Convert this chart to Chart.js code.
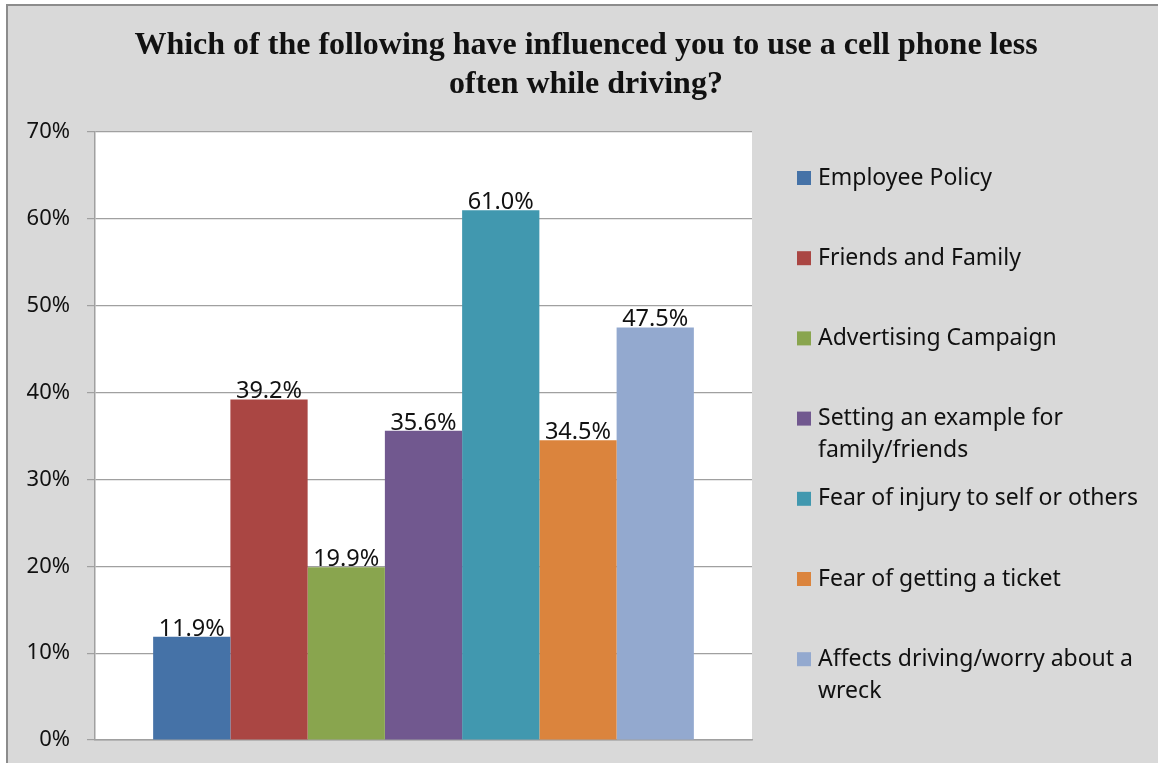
<!DOCTYPE html>
<html>
<head>
<meta charset="utf-8">
<script src="https://cdn.jsdelivr.net/npm/chart.js@4.4.0/dist/chart.umd.min.js"></script>
<style>
    html, body { margin: 0; padding: 0; background: #fff; }
    canvas { display: block; }
</style>
</head>
<body>
<canvas id="influenceChart" width="1158" height="763"></canvas>
<script>
const chartTitle = ['Which of the following have influenced you to use a cell phone less', 'often while driving?'];
const categories = [
    'Employee Policy',
    'Friends and Family',
    'Advertising Campaign',
    'Setting an example for\nfamily/friends',
    'Fear of injury to self or others',
    'Fear of getting a ticket',
    'Affects driving/worry about a\nwreck'
];
const values = [11.9, 39.2, 19.9, 35.6, 61.0, 34.5, 47.5];
const barColors = ['#4572a7', '#aa4643', '#89a54e', '#71588f', '#4198af', '#db843d', '#93a9cf'];
const yTickLabels = ['0%', '10%', '20%', '30%', '40%', '50%', '60%', '70%'];

Chart.defaults.font.family = '"Noto Sans", "Open Sans", sans-serif';
Chart.defaults.color = '#000';

// Grey panel, outer border and white plot area
const panelBackground = {
    id: 'panelBackground',
    beforeDraw(chart) {
        const { ctx, width, height, chartArea } = chart;
        ctx.save();
        ctx.fillStyle = '#fff';
        ctx.fillRect(0, 0, width, height);
        ctx.fillStyle = '#d9d9d9';
        ctx.fillRect(7, 5, width - 7, height - 5);
        ctx.strokeStyle = '#8c8c8c';
        ctx.lineWidth = 2;
        ctx.beginPath();
        ctx.moveTo(7, height);
        ctx.lineTo(7, 5);
        ctx.lineTo(width, 5);
        ctx.stroke();
        ctx.fillStyle = '#fff';
        ctx.fillRect(chartArea.left, chartArea.top, chartArea.right - chartArea.left, chartArea.bottom - chartArea.top);
        ctx.restore();
    }
};

// Value labels on top of each bar
const barValueLabels = {
    id: 'barValueLabels',
    afterDatasetsDraw(chart) {
        const { ctx } = chart;
        ctx.save();
        ctx.font = '23.5px "Noto Sans"';
        ctx.fillStyle = '#111';
        ctx.textAlign = 'center';
        ctx.textBaseline = 'bottom';
        chart.data.datasets.forEach((ds, i) => {
            const bar = chart.getDatasetMeta(i).data[0];
            ctx.fillText(ds.data[0].toFixed(1) + '%', bar.x, bar.y + 4);
        });
        ctx.restore();
    }
};

// Title and right-hand legend (multi-line labels)
const titleAndLegend = {
    id: 'titleAndLegend',
    afterDraw(chart) {
        const { ctx } = chart;
        ctx.save();
        ctx.font = 'bold 32px "Liberation Serif", "Times New Roman", serif';
        ctx.fillStyle = '#111';
        ctx.textAlign = 'center';
        ctx.textBaseline = 'middle';
        chartTitle.forEach((line, i) => ctx.fillText(line, 586, 46 + i * 39));

        ctx.font = '23px "Noto Sans"';
        ctx.textAlign = 'left';
        chart.data.datasets.forEach((ds, i) => {
            const y = 178 + i * 80.2;
            ctx.fillStyle = ds.backgroundColor;
            ctx.fillRect(797, y - 7, 14, 14);
            ctx.fillStyle = '#111';
            ds.label.split('\n').forEach((line, j) => ctx.fillText(line, 818, y + j * 32));
        });
        ctx.restore();
    }
};

const ctx = document.getElementById('influenceChart').getContext('2d');

new Chart(ctx, {
    type: 'bar',
    data: {
        labels: [''],
        datasets: categories.map((label, i) => ({
            label: label,
            data: [values[i]],
            backgroundColor: barColors[i],
            borderWidth: 0
        }))
    },
    options: {
        responsive: false,
        animation: false,
        devicePixelRatio: 1,
        layout: {
            padding: { left: 0, top: 132, right: 406, bottom: 15 }
        },
        datasets: {
            bar: {
                categoryPercentage: 0.823,
                barPercentage: 1
            }
        },
        plugins: {
            legend: { display: false },
            tooltip: { enabled: false },
            title: { display: false }
        },
        scales: {
            x: {
                ticks: { display: false },
                grid: { display: false },
                border: { color: '#a0a0a0', width: 1.5 }
            },
            y: {
                min: 0,
                max: 70,
                ticks: {
                    stepSize: 10,
                    padding: 17,
                    font: { size: 22 },
                    color: '#111',
                    callback: (value, index) => yTickLabels[index]
                },
                grid: {
                    color: '#a0a0a0',
                    lineWidth: 1.2,
                    tickLength: 8
                },
                border: { color: '#a0a0a0', width: 1.5 },
                afterFit(scale) {
                    scale.width = 95;
                    scale.paddingTop = 0;
                    scale.paddingBottom = 0;
                }
            }
        }
    },
    plugins: [panelBackground, barValueLabels, titleAndLegend]
});
</script>
</body>
</html>
